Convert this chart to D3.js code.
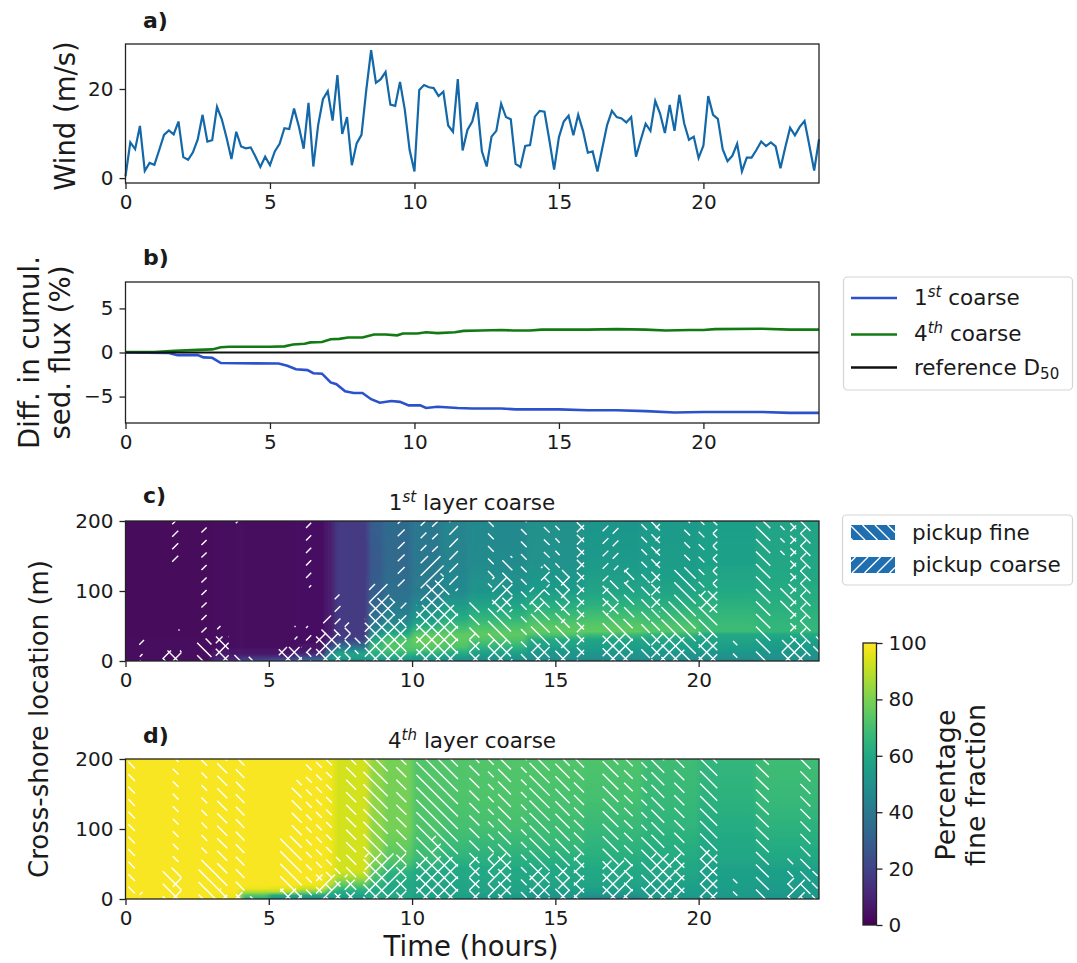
<!DOCTYPE html>
<html>
<head>
<meta charset="utf-8">
<script src="https://cdn.jsdelivr.net/npm/d3@7"></script>
<style>
body { margin: 0; background: #fff; }
text { font-family: "DejaVu Sans", sans-serif; fill: #1a1a1a; }
</style>
</head>
<body>
<div id="chart"></div>
<script>
// wind every 10 minutes, 0 to 24 h
const windValues = [0.4,8,6.5,11.7,1.6,3.4,3,6.3,9.7,10.7,9.8,12.7,4.7,4.1,5.8,8.7,14.2,8.2,8.5,16,13.2,9,4.3,10.4,7.1,6.7,6.9,4.8,2.5,4.8,2.9,6,7.7,11.2,11,15.6,11.6,6.6,16.9,2.6,11.9,17.7,19.5,12.9,23.1,9.9,13.7,2.9,7.8,9.7,19.8,28.7,21.4,22.2,23.8,16.5,16.2,21.6,15.3,6.3,1.5,19.8,20.9,20.4,20.2,18.4,19.4,11.8,10.4,22.2,6.2,10.8,12.7,17,6,2.6,9.3,10.6,16.7,13.7,13.2,3.2,2.5,7.2,7.4,13.8,15.1,14.9,8.6,1.9,9.2,12.7,14,9.6,14.2,10.6,5.7,6,1.5,6.7,11.9,15.1,13.7,13.4,12.5,13.7,4.8,8.6,12.2,10.6,17.3,14.5,10.1,16.4,10.6,18.7,12.3,8.6,9.3,4.5,7.3,18.4,14.2,13.3,6.5,3.8,5,7.7,1.5,4.6,4.6,6.3,8.2,7.2,8,7.1,2.2,6.9,11.3,9.6,11.5,12.8,7.3,1.7,8.7];

const coarse1st = [[0,0],[1.5,-0.05],[1.8,-0.3],[2.5,-0.3],[2.7,-0.55],[3,-0.6],[3.3,-1.2],[5.3,-1.25],[5.6,-1.5],[5.9,-1.9],[6.3,-2],[6.5,-2.35],[6.8,-2.4],[7.1,-3.4],[7.3,-3.6],[7.6,-4.4],[7.9,-4.6],[8.2,-4.6],[8.5,-5.3],[8.8,-5.7],[9.2,-5.5],[9.5,-5.6],[9.8,-6],[10.2,-6],[10.4,-6.3],[10.8,-6.15],[11.5,-6.3],[12,-6.35],[13,-6.35],[13.5,-6.45],[15,-6.45],[16,-6.55],[17,-6.55],[18,-6.65],[19,-6.8],[20,-6.75],[22,-6.75],[23,-6.85],[24,-6.85]];
const coarse4th = [[0,0.05],[1,0.05],[1.7,0.2],[2.5,0.3],[3,0.35],[3.3,0.6],[3.6,0.65],[5,0.65],[5.5,0.7],[5.8,0.9],[6.2,1],[6.4,1.15],[6.8,1.2],[7.1,1.5],[7.4,1.55],[7.7,1.7],[8.2,1.7],[8.6,2.05],[9,2.05],[9.4,1.95],[9.6,2.15],[10.1,2.15],[10.4,2.3],[10.8,2.2],[11.4,2.3],[11.7,2.45],[12.3,2.5],[13,2.55],[13.4,2.5],[14,2.5],[14.4,2.6],[16,2.6],[17,2.65],[18,2.6],[18.7,2.5],[19.5,2.55],[20,2.55],[20.4,2.65],[22,2.7],[23,2.6],[24,2.6]];

// heatmap columns start at these hours, last one closes at timeEnd
const gridTimes = [0,3,4,5,6,7,7.3,8.5,9,10,11,12,14,16,18,20,22];
const timeEnd = 24.2;
const gridY = [0,5,10,15,20,30,38,42,50,60,80,100,140,200];

const fractionC = [
  [3,3,3,3,3,3,2,2,2,2,2,2,2,2],
  [14,9,7,5,4,3,3,3,3,3,3,3,3,3],
  [25,14,7,5,4,3,3,3,3,3,3,3,3,3],
  [32,15,7,5,4,3,3,3,3,3,3,3,3,3],
  [36,25,12,7,5,4,4,4,4,4,4,4,4,4],
  [45,50,45,33,22,12,8,8,8,8,8,8,8,8],
  [46,56,58,50,38,20,17,17,17,17,17,17,17,17],
  [48,58,62,66,68,60,52,47,42,38,33,30,28,30],
  [50,58,65,70,73,72,62,57,50,45,40,36,34,35],
  [50,55,62,70,74,77,74,70,62,55,47,42,40,40],
  [50,54,60,66,72,75,75,72,68,62,54,47,45,45],
  [48,52,56,60,65,72,75,74,71,66,58,52,48,47],
  [47,50,52,54,56,60,72,75,74,70,62,55,51,50],
  [47,50,52,54,56,58,68,75,74,71,64,58,54,52],
  [47,50,52,54,56,58,66,73,72,69,63,58,55,54],
  [47,50,52,54,56,58,60,68,68,67,64,60,57,56],
  [48,50,52,53,55,57,60,66,66,65,63,61,59,58]
];
const fractionD = [
  [99,99,99,99,99,99,99,99,99,99,99,99,99,99],
  [97,98,99,99,99,99,99,99,99,99,99,99,99,99],
  [62,72,88,97,99,99,99,99,99,99,99,99,99,99],
  [50,60,88,96,99,99,99,99,99,99,99,99,99,99],
  [50,58,80,92,98,99,99,99,99,99,99,99,99,99],
  [52,57,65,78,88,95,97,98,98,98,98,98,98,98],
  [55,57,62,67,74,86,92,93,93,93,93,93,93,93],
  [58,60,60,62,65,70,72,74,79,82,83,83,83,83],
  [58,60,60,60,60,62,64,66,71,74,77,79,79,79],
  [56,57,58,58,58,60,60,62,65,68,70,72,73,73],
  [56,57,58,58,58,60,60,60,62,65,68,70,72,73],
  [52,55,58,58,58,60,60,60,62,64,67,70,72,73],
  [48,52,55,57,58,59,60,60,62,64,67,69,71,73],
  [42,50,55,57,58,59,60,60,61,63,65,67,70,72],
  [52,54,55,56,57,58,59,59,60,61,63,65,67,69],
  [52,54,55,55,56,56,57,57,58,59,60,61,64,66],
  [52,53,54,54,55,56,56,57,58,60,62,64,67,69]
];

// pickup areas: [t0, t1, y0, y1]
const fineC = [[0.5,0.65,0,10],[1.3,1.95,0,15],[2.5,3,0,32],[3.15,3.6,0,35],[3.8,4.05,0,15],[4.3,4.45,0,10],[5.35,6.15,0,20],[6.3,6.48,0,12],[6.65,7.5,0,45],[7.65,7.85,0,55],[8,8.2,10,40],[8.35,9.8,0,60],[8.5,9.4,60,90],[10.15,11.6,0,80],[10.5,11.3,80,110],[10.8,11.1,110,125],[12,12.35,0,87],[12.65,12.85,105,200],[12.65,13.45,0,87],[13.15,13.5,87,150],[13.8,14,0,200],[14.15,14.8,0,90],[14.6,14.8,90,200],[15,15.5,0,130],[15,15.15,130,200],[15.75,16,0,200],[16.65,17.7,0,60],[16.65,17.2,60,115],[17.4,17.75,60,130],[18,18.2,100,200],[18,18.3,0,115],[18.35,18.65,0,200],[18.7,19.9,0,85],[19.15,19.9,85,130],[19.5,19.7,130,200],[20,20.2,100,200],[20,20.65,0,100],[20.5,20.65,100,200],[21.2,21.35,0,30],[22,22.5,0,200],[22.85,23,150,200],[22.85,23.4,70,110],[23.2,23.4,0,200],[23.55,23.9,0,200],[24,24.2,10,35],[22.9,23.6,0,30]];
const coarseC = [[0.5,0.65,0,10],[0.48,0.65,20,30],[1.3,1.95,0,15],[1.85,1.95,35,45],[1.63,1.84,140,200],[2.65,2.83,40,200],[3.15,3.6,0,35],[3.2,3.35,40,50],[3.85,4.05,195,200],[5.35,6.15,0,20],[5.9,6,30,35],[5.9,6,45,50],[6.3,6.48,0,50],[6.3,6.48,105,200],[6.65,7.5,0,40],[6.9,7.2,50,65],[7.3,7.5,50,95],[7.65,7.85,0,55],[8.35,9.8,0,60],[8.5,9.4,60,90],[8.5,9.2,90,110],[9.5,9.74,100,200],[9.6,9.8,60,90],[10.15,11.6,0,80],[10.3,11.1,80,150],[10.3,10.5,150,200],[10.7,10.9,150,200],[11.3,11.6,100,200],[12,12.35,0,40],[12.65,13.5,0,30],[12.8,13.5,70,120],[14.2,14.8,0,25],[14.1,14.6,70,105],[14.5,14.8,105,135],[15.2,15.5,0,30],[15.2,15.5,50,60],[15.2,15.5,70,125],[15.75,16,0,200],[16.65,17.7,0,40],[16.65,16.85,65,200],[17,17.2,130,200],[16.85,17.2,70,85],[17.4,17.55,110,135],[18.35,19.5,0,40],[18.35,18.65,70,120],[18.5,18.65,120,200],[20,20.65,0,40],[20.05,20.65,70,100],[20.5,20.65,100,200],[23.2,23.4,0,200],[23.55,23.75,0,200],[22.9,23.6,0,25]];
const fineD = [[0.1,0.33,0,200],[0.5,0.6,0,10],[1.3,1.95,0,45],[1.65,1.85,0,200],[2.55,3.5,0,50],[2.65,2.85,0,200],[3.2,3.55,0,200],[3.85,4.15,0,200],[4.35,4.5,0,15],[5.4,6.15,0,90],[5.8,6.15,0,170],[6.3,6.5,0,200],[6.65,6.85,0,200],[7,7.2,0,200],[7.3,7.5,0,60],[7.7,8.05,0,200],[8.3,9.15,0,200],[9.45,9.8,0,200],[10.15,11.6,0,200],[12,12.35,0,200],[12.65,12.85,0,200],[13,13.45,0,200],[13.8,14,0,200],[14.1,14.8,0,200],[15,15.5,0,200],[15.65,16,0,200],[16.65,17.2,0,200],[17.4,17.7,0,200],[18,18.2,0,200],[18.2,18.35,0,80],[18.35,18.8,0,200],[18.8,19.05,0,60],[19.15,19.5,0,200],[20.05,20.65,0,200],[21.2,21.35,0,30],[22,22.45,0,200],[23.1,23.3,0,60],[23.55,23.9,0,200],[23.95,24.15,0,40]];
const coarseD = [[0.5,0.6,0,10],[1.65,1.95,0,30],[3.3,3.55,0,15],[3.85,4.15,0,10],[5.4,6.15,0,15],[6.65,7.5,0,35],[7.65,8,0,35],[8.35,9.8,0,65],[10.15,11.6,0,60],[10.7,11,60,90],[12,12.35,0,60],[12.65,13.45,0,65],[14.1,14.8,0,45],[15.1,15.5,0,45],[15.65,16,0,65],[16.65,17.7,0,55],[18.1,18.4,0,25],[18.35,19.5,0,65],[20.05,20.65,0,70],[23.1,23.7,0,30]];

const windTicks = [0,20];
const fluxTicks = [-5,0,5];
const hourTicks = [0,5,10,15,20];
const locationTicks = [0,100,200];
const colorTicks = [0,20,40,60,80,100];

const width = 1077, height = 963;
const hatchStep = 12.5;
const svg = d3.select("#chart").append("svg").attr("width", width).attr("height", height);
const defs = svg.append("defs");
const color = d3.scaleSequential(d3.interpolateViridis).domain([0,100]);

// straight 45 degree hatch lines cut to a pixel box, all on one lattice
function hatchLines(box, forward) {
  const [x0, x1, y0, y1] = box;
  let d = "";
  if (forward) {
    for (let k = Math.floor((x0+y0)/hatchStep); k*hatchStep <= x1+y1; k++) {
      const c = k*hatchStep, a = Math.max(x0, c-y1), b = Math.min(x1, c-y0);
      if (b > a) d += `M${a},${c-a}L${b},${c-b}`;
    }
  } else {
    for (let k = Math.floor((y0-x1)/hatchStep); k*hatchStep <= y1-x0; k++) {
      const c = k*hatchStep, a = Math.max(x0, y0-c), b = Math.min(x1, y1-c);
      if (b > a) d += `M${a},${a+c}L${b},${b+c}`;
    }
  }
  return d;
}

const blur = defs.append("filter").attr("id","sideBlur").attr("x","-5%").attr("width","110%");
blur.append("feGaussianBlur").attr("stdDeviation","2.5 0");

function drawAxes(g, x, y, yTicks) {
  const w = x.range()[1], h = y.range()[0];
  g.append("rect").attr("width", w).attr("height", h).attr("fill","none").attr("stroke","#222").attr("stroke-width",1.3);
  const ax = g.append("g").attr("transform",`translate(0,${h})`).call(d3.axisBottom(x).tickValues(hourTicks).tickSize(6).tickPadding(6).tickFormat(d3.format("d")));
  const ay = g.append("g").call(d3.axisLeft(y).tickValues(yTicks).tickSize(6).tickPadding(6).tickFormat(d3.format("d")));
  [ax, ay].forEach(a => {
    a.select(".domain").remove();
    a.selectAll(".tick line").attr("stroke","#222").attr("stroke-width",1.3);
    a.selectAll("text").attr("font-size",20).attr("font-family","DejaVu Sans").attr("fill","#1a1a1a");
  });
}

function panelLabel(txt, x, y) {
  svg.append("text").attr("x",x).attr("y",y).attr("font-size",22).attr("font-weight","bold").text(txt);
}

function vertLabel(lines, x, cy, size, gap) {
  lines.forEach((l, i) => {
    svg.append("text").attr("transform",`translate(${x + i*gap},${cy}) rotate(-90)`)
      .attr("text-anchor","middle").attr("font-size",size).text(l);
  });
}

function superText(sel, num, sup, rest) {
  sel.append("tspan").text(num);
  sel.append("tspan").attr("dy",-8).attr("font-size","70%").attr("font-style","italic").text(sup);
  sel.append("tspan").attr("dy",8).text(rest);
}

// a) wind
const xA = d3.scaleLinear().domain([0,24]).range([0,693.5]);
const yA = d3.scaleLinear().domain([-1.1,30.1]).range([139,0]);
const gA = svg.append("g").attr("transform","translate(125.5,44)");
gA.append("path").attr("fill","none").attr("stroke","#1268a8").attr("stroke-width",2.2)
  .attr("d", d3.line().x((d,i) => xA(i/6)).y(d => yA(d))(windValues));
drawAxes(gA, xA, yA, windTicks);

// b) sediment flux
const yB = d3.scaleLinear().domain([-8,8]).range([141,0]);
const gB = svg.append("g").attr("transform","translate(125.5,282)");
const fluxLine = d3.line().x(d => xA(d[0])).y(d => yB(d[1]));
gB.append("path").attr("fill","none").attr("stroke","#2b52cc").attr("stroke-width",2.6).attr("d",fluxLine(coarse1st));
gB.append("path").attr("fill","none").attr("stroke","#127a12").attr("stroke-width",2.6).attr("d",fluxLine(coarse4th));
gB.append("line").attr("x1",0).attr("x2",693.5).attr("y1",yB(0)).attr("y2",yB(0)).attr("stroke","#111").attr("stroke-width",2);
drawAxes(gB, xA, yB, fluxTicks);

// c) and d) fine fraction maps
const xMap = d3.scaleLinear().domain([0,timeEnd]).range([0,693.5]);
const yMap = d3.scaleLinear().domain([0,200]).range([140,0]);

function drawMap(id, top, values, fine, coarse) {
  const g = svg.append("g").attr("transform",`translate(125.5,${top})`);
  defs.append("clipPath").attr("id",id+"clip").append("rect").attr("width",693.5).attr("height",140);
  const clip = g.append("g").attr("clip-path",`url(#${id}clip)`);
  const cells = clip.append("g").attr("filter","url(#sideBlur)");
  values.forEach((col, i) => {
    const grad = defs.append("linearGradient").attr("id",`${id}col${i}`).attr("gradientUnits","userSpaceOnUse")
      .attr("x1",0).attr("x2",0).attr("y1",yMap(0)).attr("y2",yMap(200));
    col.forEach((v, j) => grad.append("stop").attr("offset",gridY[j]/200).attr("stop-color",color(v)));
    const t0 = gridTimes[i], t1 = i + 1 < gridTimes.length ? gridTimes[i+1] : timeEnd;
    const pad0 = i === 0 ? 10 : 0, pad1 = i === values.length - 1 ? 10 : 0.5;
    cells.append("rect").attr("x",xMap(t0)-pad0).attr("width",xMap(t1)-xMap(t0)+pad0+pad1)
      .attr("y",0).attr("height",140).attr("fill",`url(#${id}col${i})`);
  });
  const areas = (list, forward) => clip.append("path").attr("fill","none").attr("stroke","#fff").attr("stroke-width",1.4)
    .attr("d", list.map(d => hatchLines([xMap(d[0]), xMap(d[1]), yMap(d[3]), yMap(d[2])], forward)).join(""));
  areas(fine, false);
  areas(coarse, true);
  drawAxes(g, xMap, yMap, locationTicks);
}
drawMap("mapC", 521, fractionC, fineC, coarseC);
drawMap("mapD", 759, fractionD, fineD, coarseD);

// colorbar
const cbH = 282;
const yCb = d3.scaleLinear().domain([0,100]).range([cbH,0]);
const cbGrad = defs.append("linearGradient").attr("id","cbGrad").attr("x1",0).attr("x2",0).attr("y1",1).attr("y2",0);
d3.range(0,101,5).forEach(v => cbGrad.append("stop").attr("offset",v/100).attr("stop-color",color(v)));
const gCb = svg.append("g").attr("transform","translate(863,643)");
gCb.append("rect").attr("width",13.5).attr("height",cbH).attr("fill","url(#cbGrad)").attr("stroke","#222").attr("stroke-width",1.3);
const axCb = gCb.append("g").attr("transform","translate(13.5,0)").call(d3.axisRight(yCb).tickValues(colorTicks).tickSize(6).tickPadding(6).tickFormat(d3.format("d")));
axCb.select(".domain").remove();
axCb.selectAll(".tick line").attr("stroke","#222").attr("stroke-width",1.3);
axCb.selectAll("text").attr("font-size",20).attr("font-family","DejaVu Sans").attr("fill","#1a1a1a");
vertLabel(["Percentage","fine fraction"], 955, 785, 26.8, 30);

// labels
panelLabel("a)",143,28);
panelLabel("b)",143,265);
panelLabel("c)",143,503);
panelLabel("d)",143,743);
vertLabel(["Wind (m/s)"], 75, 116, 27.5, 0);
vertLabel(["Diff. in cumul.","sed. flux (%)"], 38.5, 352.5, 27.6, 31.5);
vertLabel(["Cross-shore location (m)"], 48, 719, 26, 0);
svg.append("text").attr("x",471).attr("y",956).attr("text-anchor","middle").attr("font-size",27.5).text("Time (hours)");
superText(svg.append("text").attr("x",472).attr("y",510).attr("text-anchor","middle").attr("font-size",21.5),"1","st"," layer coarse");
superText(svg.append("text").attr("x",472).attr("y",748).attr("text-anchor","middle").attr("font-size",21.5),"4","th"," layer coarse");

// legends
function legendBox(x, y, w, h) {
  svg.append("rect").attr("x",x).attr("y",y).attr("width",w).attr("height",h).attr("rx",4)
    .attr("fill","#fff").attr("stroke","#d5d5d5").attr("stroke-width",1.2);
}
function legendPatch(y, h, forward) {
  const x0 = 851, x1 = 895;
  svg.append("rect").attr("x",x0).attr("y",y).attr("width",x1-x0).attr("height",h).attr("fill","#1f6fb0");
  svg.append("path").attr("fill","none").attr("stroke","#fff").attr("stroke-width",1.4)
    .attr("d",hatchLines([x0,x1,y,y+h],forward));
}
legendBox(843.5,277,229,113);
[["#2b52cc",298],["#127a12",334.5],["#111",367.5]].forEach(d => {
  svg.append("line").attr("x1",851).attr("x2",897).attr("y1",d[1]).attr("y2",d[1]).attr("stroke",d[0]).attr("stroke-width",2.4);
});
superText(svg.append("text").attr("x",914).attr("y",305).attr("font-size",21.5),"1","st"," coarse");
superText(svg.append("text").attr("x",914).attr("y",341).attr("font-size",21.5),"4","th"," coarse");
const refLabel = svg.append("text").attr("x",914).attr("y",375).attr("font-size",21.5);
refLabel.append("tspan").text("reference D");
refLabel.append("tspan").attr("dy",4).attr("font-size","70%").text("50");

legendBox(842.5,515,230,70);
legendPatch(525,15,false);
legendPatch(557,16,true);
svg.append("text").attr("x",912).attr("y",540).attr("font-size",21.5).text("pickup fine");
svg.append("text").attr("x",912).attr("y",572).attr("font-size",21.5).text("pickup coarse");
</script>
</body>
</html>
